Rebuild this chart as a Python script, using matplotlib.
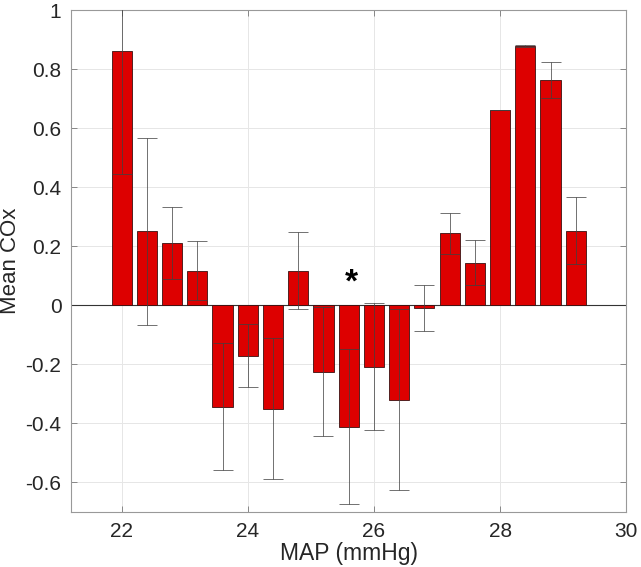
import matplotlib
matplotlib.use('Agg')
import matplotlib.pyplot as plt
import numpy as np

# MAP bins (mmHg) and mean COx with error
map_bins = [22.0, 22.4, 22.8, 23.2, 23.6, 24.0, 24.4, 24.8, 25.2, 25.6,
            26.0, 26.4, 26.8, 27.2, 27.6, 28.0, 28.4, 28.8, 29.2]
mean_cox = [0.862, 0.251, 0.210, 0.118, -0.343, -0.171, -0.350, 0.118, -0.225, -0.411,
            -0.208, -0.320, -0.009, 0.244, 0.145, 0.663, 0.879, 0.763, 0.253]
err_cox = [0.416, 0.316, 0.122, 0.099, 0.215, 0.107, 0.238, 0.131, 0.218, 0.262,
           0.215, 0.307, 0.077, 0.070, 0.075, 0.0, 0.004, 0.060, 0.113]

star_x = 25.65
star_y = 0.075

plt.rcParams['font.family'] = ['Liberation Sans', 'DejaVu Sans']

fig = plt.figure(figsize=(6.41, 5.67), dpi=100)
ax = fig.add_axes([0.111, 0.097, 0.866, 0.885])

# bars
ax.bar(map_bins, mean_cox, width=0.32, color='#dd0000', edgecolor='#3a1010',
       linewidth=0.6, zorder=2)
ax.axhline(0, color='#333333', linewidth=0.8, zorder=1.5)

# error bars
ax.errorbar(map_bins, mean_cox, yerr=err_cox, fmt='none', ecolor='#404040',
            elinewidth=0.7, capsize=7.5, capthick=0.7, alpha=0.75, zorder=3)

# significance marker
ax.text(star_x, star_y, '*', fontsize=24, fontweight='bold', ha='center',
        va='center', color='black')

ax.set_xlim(21.2, 30)
ax.set_ylim(-0.7, 1)
ax.set_xticks([22, 24, 26, 28, 30])
ax.set_yticks([-0.6, -0.4, -0.2, 0, 0.2, 0.4, 0.6, 0.8, 1])
ax.set_yticklabels(['-0.6', '-0.4', '-0.2', '0', '0.2', '0.4', '0.6', '0.8', '1'])
ax.grid(True, color='#e6e6e6', linewidth=0.7, zorder=0)
ax.set_axisbelow(True)

ax.tick_params(direction='in', top=True, right=True, length=4, width=0.6,
               color='#777777', labelsize=15, labelcolor='#262626', pad=7)
for s in ax.spines.values():
    s.set_color('#999999')
    s.set_linewidth(0.8)

ax.set_xlabel('MAP (mmHg)', fontsize=16.5, color='#262626', labelpad=1)
ax.set_ylabel('Mean COx', fontsize=16, color='#262626')
ax.yaxis.set_label_coords(-0.09, 0.5)

fig.savefig('out.png', dpi=100)
